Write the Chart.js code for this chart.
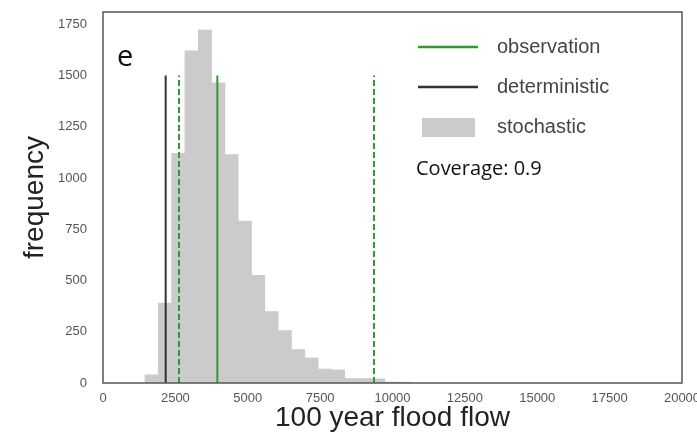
<!DOCTYPE html>
<html lang="en">
<head>
<meta charset="UTF-8">
<title>100 year flood flow</title>
<script src="https://cdn.jsdelivr.net/npm/chart.js"></script>
<style>
  body { margin: 0; background: #fff; }
  #wrap { width: 697px; height: 444px; position: relative; }
</style>
</head>
<body>
<div id="wrap"><canvas id="chart"></canvas></div>
<script>
// histogram bins (centres) and counts of the stochastic runs
const binCenters = [1680, 2140, 2600, 3060, 3520, 3980, 4440, 4900, 5360, 5820,
                    6280, 6740, 7200, 7660, 8120, 8580, 9040, 9500, 9960, 10420];
const counts = [40, 390, 1120, 1620, 1722, 1465, 1115, 790, 525, 348,
                256, 163, 122, 68, 64, 22, 22, 20, 5, 4];

const observation = 3950;
const obsBounds = [2625, 9360];
const deterministic = 2165;
const lineTop = 1500;

const xTicks = [0, 2500, 5000, 7500, 10000, 12500, 15000, 17500, 20000];
const yTicks = [0, 250, 500, 750, 1000, 1250, 1500, 1750];

const green = '#2f9a2f';
const grey = '#cbcbcb';
const dark = '#333333';

const vline = (x, color, dash) => ({
  type: 'line',
  data: [{x: x, y: 0}, {x: x, y: lineTop}],
  borderColor: color,
  borderWidth: 2,
  borderDash: dash,
  pointRadius: 0,
  order: 1
});

const frameAndLegend = {
  id: 'frameAndLegend',
  afterDraw(chart) {
    const ctx = chart.ctx;
    const a = chart.chartArea;
    ctx.save();
    ctx.strokeStyle = '#555';
    ctx.lineWidth = 1.5;
    ctx.strokeRect(a.left, a.top, a.right - a.left, a.bottom - a.top);

    // panel letter
    ctx.fillStyle = '#111';
    ctx.font = '29px "Open Sans"';
    ctx.textBaseline = 'middle';
    ctx.fillText('e', 117, 58);

    // legend
    const lx = 418, tx = 497;
    ctx.font = '20px "Liberation Sans"';
    ctx.fillStyle = '#444';
    ctx.lineWidth = 2.5;
    ctx.strokeStyle = green;
    ctx.beginPath(); ctx.moveTo(lx, 47); ctx.lineTo(lx + 60, 47); ctx.stroke();
    ctx.fillText('observation', tx, 47);
    ctx.strokeStyle = dark;
    ctx.beginPath(); ctx.moveTo(lx, 87); ctx.lineTo(lx + 60, 87); ctx.stroke();
    ctx.fillText('deterministic', tx, 87);
    ctx.fillStyle = grey;
    ctx.fillRect(lx + 4, 118, 53, 19);
    ctx.fillStyle = '#444';
    ctx.fillText('stochastic', tx, 127);

    ctx.fillStyle = '#111';
    ctx.font = '20px "Open Sans"';
    ctx.fillText('Coverage: 0.9', 416, 169);
    ctx.restore();
  }
};

new Chart(document.getElementById('chart'), {
  type: 'bar',
  data: {
    datasets: [
      vline(observation, green, []),
      vline(deterministic, dark, []),
      vline(obsBounds[0], green, [6, 3]),
      vline(obsBounds[1], green, [6, 3]),
      {
        type: 'bar',
        data: binCenters.map((c, i) => ({x: c, y: counts[i]})),
        backgroundColor: grey,
        borderWidth: 0,
        barPercentage: 1,
        categoryPercentage: 1,
        order: 2
      }
    ]
  },
  options: {
    responsive: true,
    maintainAspectRatio: false,
    animation: false,
    layout: {padding: {left: 0, right: 15, top: 12, bottom: 0}},
    plugins: {legend: {display: false}, tooltip: {enabled: false}},
    scales: {
      x: {
        type: 'linear',
        min: 0,
        max: 20000,
        offset: false,
        grid: {display: false, offset: false},
        border: {display: false},
        afterBuildTicks: (s) => { s.ticks = xTicks.map(v => ({value: v})); },
        afterFit: (s) => { s.height = 61; s.paddingLeft = 0; s.paddingRight = 0; },
        ticks: {
          color: '#555',
          font: {family: 'Liberation Sans', size: 13},
          padding: 0,
          maxRotation: 0,
          callback: (v) => String(v)
        },
        title: {
          display: true,
          text: '100 year flood flow',
          color: '#222',
          font: {family: 'Liberation Sans', size: 28},
          padding: {top: 2, bottom: 9}
        }
      },
      y: {
        min: 0,
        max: 1810,
        grid: {display: false},
        border: {display: false},
        afterBuildTicks: (s) => { s.ticks = yTicks.map(v => ({value: v})); },
        afterFit: (s) => { s.width = 103; s.paddingTop = 0; s.paddingBottom = 0; },
        ticks: {
          color: '#555',
          font: {family: 'Liberation Sans', size: 13},
          padding: 8,
          callback: (v) => String(v)
        },
        title: {
          display: true,
          text: 'frequency',
          color: '#222',
          font: {family: 'Liberation Sans', size: 28},
          padding: {top: 18, bottom: 0}
        }
      }
    }
  },
  plugins: [frameAndLegend]
});
</script>
</body>
</html>
